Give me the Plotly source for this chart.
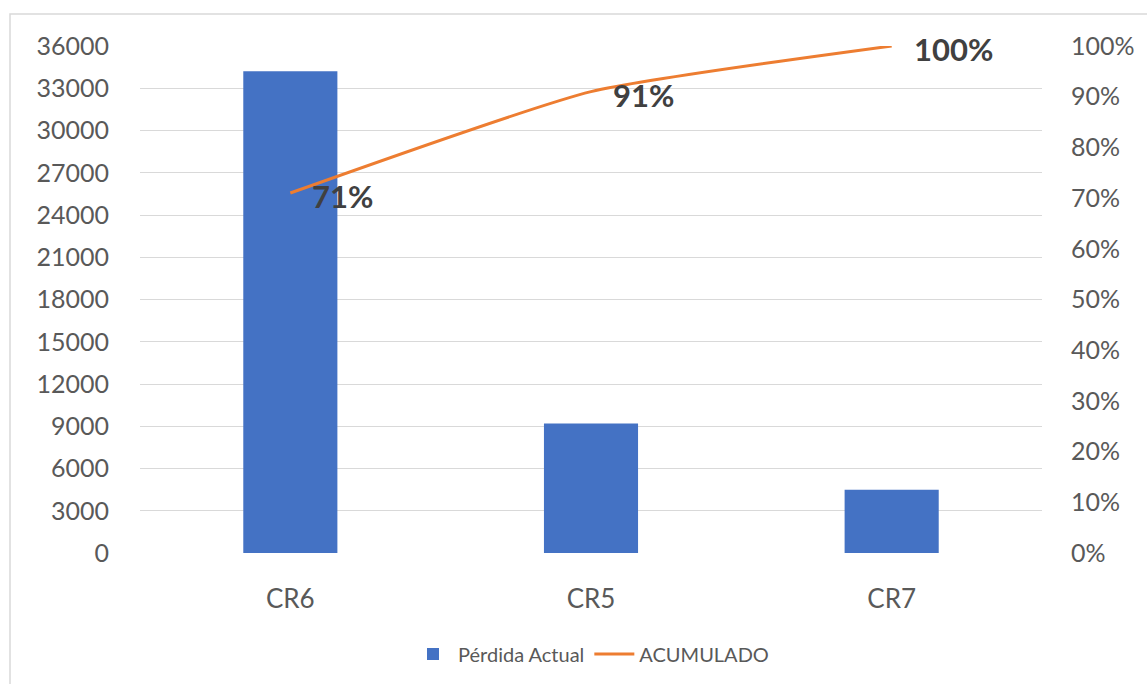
import plotly.graph_objects as go

# Pareto of current losses by circuit
categories = ["CR6", "CR5", "CR7"]
perdida_actual = [34200, 9200, 4500]
acumulado = [0.71, 0.91, 1.00]
acumulado_labels = ["71%", "91%", "100%"]

left_ticks = list(range(0, 36001, 3000))
right_ticks = [i / 10 for i in range(0, 11)]

FONT = "Lato, Open Sans, sans-serif"
AXIS_GRAY = "#595959"

fig = go.Figure()

fig.add_trace(go.Bar(
    x=categories,
    y=perdida_actual,
    name="Pérdida Actual",
    marker=dict(color="#4472C4", line=dict(width=0)),
    yaxis="y",
))

fig.add_trace(go.Scatter(
    x=categories,
    y=acumulado,
    name="ACUMULADO",
    mode="lines",
    line=dict(color="#ED7D31", width=3, shape="spline", smoothing=0.5),
    cliponaxis=False,
    yaxis="y2",
))

# Cumulative percentage labels, set to the right of each point
for cat, val, lab in zip(categories, acumulado, acumulado_labels):
    fig.add_annotation(
        x=cat, y=val, xref="x", yref="y2",
        text=f"<b>{lab}</b>",
        showarrow=False,
        xanchor="left", yanchor="middle",
        xshift=20, yshift=-3,
        font=dict(family=FONT, size=31, color="#404040"),
    )

fig.update_layout(
    width=1147,
    height=684,
    margin=dict(l=140, r=105, t=46, b=130),
    paper_bgcolor="white",
    plot_bgcolor="white",
    font=dict(family=FONT, color=AXIS_GRAY),
    bargap=0.687,
    showlegend=True,
    legend=dict(
        orientation="h",
        x=0.5, xanchor="center",
        y=-0.197, yanchor="middle",
        font=dict(size=20, color=AXIS_GRAY),
        itemwidth=40,
    ),
    xaxis=dict(
        showgrid=False,
        showline=False,
        tickfont=dict(size=26, color=AXIS_GRAY),
        ticks="",
        ticklabelstandoff=28,
    ),
    yaxis=dict(
        range=[0, 36000],
        tickvals=left_ticks,
        ticktext=[str(v) for v in left_ticks],
        showgrid=True,
        gridcolor="#D9D9D9",
        gridwidth=1,
        zeroline=False,
        showline=False,
        tickfont=dict(size=25, color=AXIS_GRAY),
        ticklabelstandoff=30,
    ),
    yaxis2=dict(
        range=[0, 1],
        tickvals=right_ticks,
        tickformat=".0%",
        overlaying="y",
        side="right",
        showgrid=False,
        zeroline=False,
        showline=False,
        tickfont=dict(size=25, color=AXIS_GRAY),
        ticklabelstandoff=28,
    ),
)

# Light frame around the chart area
fig.add_shape(
    type="rect", xref="paper", yref="paper",
    x0=-130 / 902, x1=1.2, y0=-0.5, y1=1 + 32 / 508,
    line=dict(color="#D9D9D9", width=1.5),
    fillcolor="rgba(0,0,0,0)",
    layer="below",
)

fig.write_html("out.html")
